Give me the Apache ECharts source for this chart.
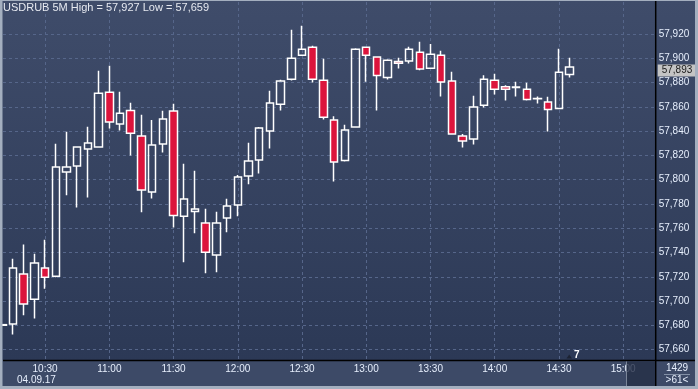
<!DOCTYPE html>
<html><head><meta charset="utf-8">
<script src="https://cdn.jsdelivr.net/npm/echarts@6/dist/echarts.min.js"></script>
<style>
html,body{margin:0;padding:0;background:#2c3956;}
#c{width:698px;height:389px;background:linear-gradient(to bottom,#3f4c6a 0px,#2c3956 360px,#3d4a67 360px,#3d4a67 389px);}
</style></head><body><div id="c"></div>
<script>
const times = ['10:10','10:15','10:20','10:25','10:30','10:35','10:40','10:45','10:50','10:55',
  '11:00','11:05','11:10','11:15','11:20','11:25','11:30','11:35','11:40','11:45','11:50','11:55',
  '12:00','12:05','12:10','12:15','12:20','12:25','12:30','12:35','12:40','12:45','12:50','12:55',
  '13:00','13:05','13:10','13:15','13:20','13:25','13:30','13:35','13:40','13:45','13:50','13:55',
  '14:00','14:05','14:10','14:15','14:20','14:25','14:30','14:35'];
const open = [57.6800,57.6811,57.7223,57.7014,57.7272,57.7204,57.8063,57.8113,57.8253,57.8269,
  57.8722,57.8459,57.8571,57.8360,57.7898,57.8294,57.8566,57.7698,57.7739,57.7643,57.7379,57.7684,
  57.7791,57.8030,57.8162,57.8401,57.8623,57.8829,57.9027,57.9093,57.8821,57.8492,57.8159,57.8434,
  57.9093,57.9011,57.8843,57.8975,57.8978,57.9052,57.8920,57.9027,57.8813,57.8360,57.8335,57.8615,
  57.8821,57.8766,57.8761,57.8747,57.8667,57.8640,57.8588,57.8868];
const close = [57.6805,57.7272,57.6976,57.7313,57.7195,57.8104,57.8104,57.8269,57.8302,57.8714,
  57.8475,57.8549,57.8384,57.7915,57.8286,57.8500,57.7706,57.7841,57.7758,57.7401,57.7643,57.7783,
  57.8022,57.8154,57.8426,57.8632,57.8813,57.9002,57.9076,57.8829,57.8516,57.8146,57.8409,57.9076,
  57.9027,57.8859,57.8986,57.8961,57.9076,57.8912,57.9035,57.8805,57.8376,57.8319,57.8599,57.8829,
  57.8747,57.8747,57.8764,57.8662,57.8669,57.8579,57.8887,57.8930];
const low = [57.6800,57.6723,57.6882,57.6855,57.7102,57.7195,57.7871,57.7772,57.7854,57.8269,
  57.8423,57.8406,57.8200,57.7731,57.7846,57.8225,57.7607,57.7319,57.7558,57.7228,57.7237,57.7566,
  57.7698,57.7962,57.8052,57.8258,57.8571,57.8818,57.9027,57.8802,57.8497,57.7986,57.8151,57.8434,
  57.8807,57.8571,57.8827,57.8917,57.8958,57.8903,57.8920,57.8686,57.8376,57.8266,57.8291,57.8596,
  57.8703,57.8654,57.8686,57.8654,57.8629,57.8398,57.8588,57.8843];
const high = [57.6805,57.7349,57.7465,57.7390,57.7506,57.8297,57.8395,57.8269,57.8437,57.8898,
  57.8939,57.8725,57.8634,57.8535,57.8492,57.8568,57.8626,57.8132,57.8074,57.7761,57.7736,57.7843,
  57.8038,57.8305,57.8434,57.8733,57.8824,57.9236,57.9270,57.9104,57.8997,57.8524,57.8453,57.9085,
  57.9093,57.9011,57.8994,57.9005,57.9096,57.9137,57.9120,57.9063,57.8890,57.8376,57.8692,57.8862,
  57.8873,57.8780,57.8807,57.8799,57.8686,57.8684,57.9079,57.9005];
const xTickLabels = ['10:30','11:00','11:30','12:00','12:30','13:00','13:30','14:00','14:30','15:00'];
const yTickValues = [57.66,57.68,57.70,57.72,57.74,57.76,57.78,57.80,57.82,57.84,57.86,57.88,57.90,57.92];
const lastPrice = 57.893;
const titleText = 'USDRUB 5M High = 57,927 Low = 57,659';

const F = 'Liberation Sans, Arial, sans-serif';
const toMin = s => { const p = s.split(':').map(Number); return p[0]*60 + p[1]; };
const pad = n => (n < 10 ? '0' : '') + n;
const fmtTime = v => pad(Math.floor(v/60)) + ':' + pad(Math.round(v % 60));
const fmtPrice = v => v.toFixed(3).replace('.', ',');
const data = times.map((t,i) => [toMin(t), open[i], close[i], low[i], high[i]]);
const xVals = xTickLabels.map(toMin);

const chart = echarts.init(document.getElementById('c'), null, {renderer:'canvas'});
chart.setOption({
  backgroundColor: 'transparent',
  animation: false,
  title: {text: titleText, left: 3, top: 2, padding: 0,
    textStyle: {color:'#e6e9f0', fontSize: 11, fontWeight: 'normal', fontFamily: F}},
  grid: {left: 3, right: 42.3, top: 2, bottom: 29, containLabel: false, outerBoundsMode: 'none'},
  xAxis: {type: 'value', min: 610.35, max: 915.2,
    axisLine: {show: false}, axisTick: {show: false, customValues: xVals},
    splitLine: {show: true, lineStyle: {color: '#56668a', type: [3,3], width: 1}},
    axisLabel: {customValues: xVals, formatter: v => fmtTime(v), color: '#e6eefc', fontSize: 10, margin: 4, fontFamily: F}},
  yAxis: {type: 'value', position: 'right', min: 57.65136, max: 57.94654, scale: true,
    axisLine: {show: false}, axisTick: {show: false, customValues: yTickValues},
    splitLine: {show: true, lineStyle: {color: '#56668a', type: [3,3], width: 1}},
    axisLabel: {customValues: yTickValues, formatter: fmtPrice,
      color: '#e6eefc', fontSize: 10, margin: 3, fontFamily: F}},
  series: [{
    type: 'candlestick', data: data, encode: {x: 0, y: [1,2,3,4]},
    barWidth: 8,
    itemStyle: {color: 'rgba(0,0,0,0)', color0: '#dc143c', borderColor: '#ffffff', borderColor0: '#ffffff',
      borderColorDoji: '#ffffff', borderWidth: 1.5}
  }, {
    type: 'line', data: [], clip: false, silent: true,
    markLine: {silent: true, symbol: ['none','none'], animation: false,
      lineStyle: {color: 'rgba(0,0,0,0)', width: 1},
      label: {show: true, position: 'end', distance: 2, formatter: fmtPrice(lastPrice),
        backgroundColor: '#c4c4c4', color: '#1a1a1a', fontSize: 10, fontFamily: F, padding: [1,4,1,4]},
      data: [{yAxis: lastPrice}]}
  }],
  graphic: [
    {type:'line', z:100, shape:{x1:3, y1:360.5, x2:695, y2:360.5}, style:{stroke:'#000', lineWidth:1.5}},
    {type:'line', z:100, shape:{x1:655.7, y1:0, x2:655.7, y2:386}, style:{stroke:'#000', lineWidth:1.5}},
    {type:'rect', z:101, shape:{x:626, y:361.5, width:29, height:24.5}, style:{fill:'rgba(36,46,70,0.8)'}},
    {type:'line', z:102, shape:{x1:626.5, y1:361.5, x2:626.5, y2:386}, style:{stroke:'#7a8599', lineWidth:1}},
    {type:'line', z:100, shape:{x1:664, y1:374.5, x2:690, y2:374.5}, style:{stroke:'#8390a6', lineWidth:1}},
    {type:'text', z:100, x:677, y:368, style:{text:'1429', fill:'#e6eefc', font:'10px '+F, textAlign:'center', textVerticalAlign:'middle'}},
    {type:'text', z:100, x:677, y:380.5, style:{text:'>61<', fill:'#e6eefc', font:'10px '+F, textAlign:'center', textVerticalAlign:'middle'}},
    {type:'text', z:100, x:17, y:380, style:{text:'04.09.17', fill:'#e6eefc', font:'10px '+F, textAlign:'left', textVerticalAlign:'middle'}},
    {type:'text', z:100, x:574, y:355, style:{text:'7', fill:'#ffffff', font:'bold 10px '+F, textAlign:'left', textVerticalAlign:'middle'}},
    {type:'polygon', z:100, shape:{points:[[566.5,358.5],[572,358.5],[569.2,354.5]]}, style:{fill:'#1c2333'}},
    {type:'rect', z:110, shape:{x:0, y:0, width:698, height:1}, style:{fill:'#a4afbf'}},
    {type:'rect', z:110, shape:{x:0, y:0, width:2.5, height:389}, style:{fill:'#a4afbf'}},
    {type:'rect', z:110, shape:{x:695, y:0, width:3, height:389}, style:{fill:'#a4afbf'}},
    {type:'rect', z:110, shape:{x:0, y:386, width:698, height:3}, style:{fill:'#a4afbf'}}
  ]
});
</script></body></html>
